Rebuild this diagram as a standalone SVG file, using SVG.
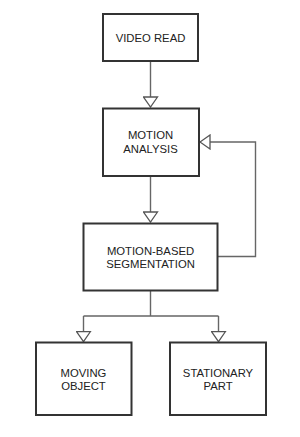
<svg xmlns="http://www.w3.org/2000/svg" width="300" height="437" viewBox="0 0 300 437">
<defs>
<style>
.box{fill:#fff;stroke:#333;stroke-width:2}
.t{font-family:"Liberation Sans",Arial,sans-serif;font-size:11.3px;fill:#222;text-anchor:middle}
.c{fill:none;stroke:#666;stroke-width:1.4}
.ah{fill:#fff;stroke:#555;stroke-width:1.3}
</style>
<marker id="arr" viewBox="0 0 12 16" refX="11" refY="8" markerWidth="12" markerHeight="16" markerUnits="userSpaceOnUse" orient="auto">
<path class="ah" d="M1,1 L11,8 L1,15 Z"/>
</marker>
</defs>
<rect width="300" height="437" fill="#fff"/>
<g id="connectors">
<path class="c" d="M150.5,62 V107" marker-end="url(#arr)"/>
<path class="c" d="M150.5,177 V222" marker-end="url(#arr)"/>
<path class="c" d="M218,256.5 H255.5 V142 H200" marker-end="url(#arr)"/>
<path class="c" d="M150.5,291 V316 M83.5,316 H218.5"/>
<path class="c" d="M83.5,316 V341.5" marker-end="url(#arr)"/>
<path class="c" d="M218.5,316 V341.5" marker-end="url(#arr)"/>
</g>
<g id="video-read">
<rect class="box" x="103" y="14" width="95" height="47"/>
<text class="t" x="150.5" y="41.5">VIDEO READ</text>
</g>
<g id="motion-analysis">
<rect class="box" x="103" y="108.5" width="96" height="67.5"/>
<text class="t" x="150.5" y="139">MOTION</text>
<text class="t" x="150.5" y="153">ANALYSIS</text>
</g>
<g id="motion-based-segmentation">
<rect class="box" x="83.5" y="223.5" width="134" height="67"/>
<text class="t" x="150.5" y="254.5">MOTION-BASED</text>
<text class="t" x="150.5" y="267.5">SEGMENTATION</text>
</g>
<g id="moving-object">
<rect class="box" x="36" y="342.5" width="95.5" height="72.5"/>
<text class="t" x="83.5" y="376.5">MOVING</text>
<text class="t" x="83.5" y="390">OBJECT</text>
</g>
<g id="stationary-part">
<rect class="box" x="170" y="342.5" width="96" height="72.5"/>
<text class="t" x="218" y="376.5">STATIONARY</text>
<text class="t" x="218" y="390">PART</text>
</g>
</svg>
